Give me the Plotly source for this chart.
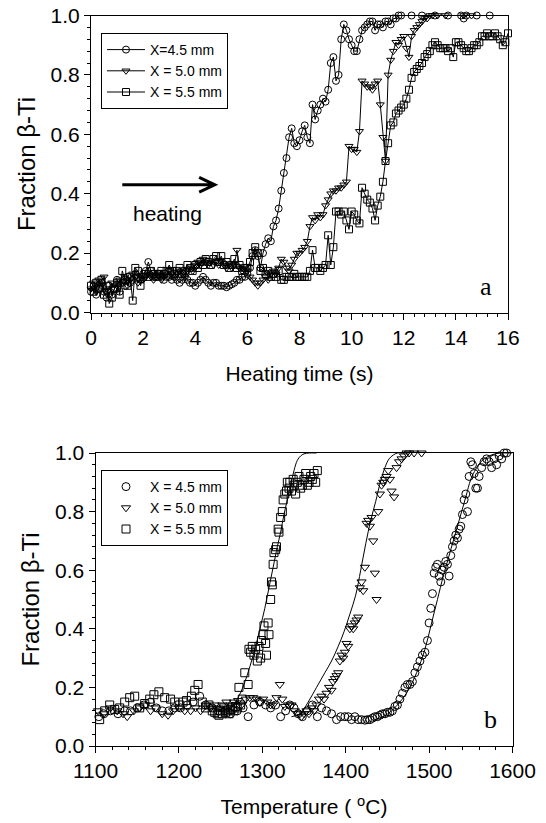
import plotly.graph_objects as go

# ---------------- data: panel a (heating time) ----------------
TIME = [
    0.0, 0.1, 0.2, 0.3, 0.4, 0.5, 0.6, 0.7, 0.8, 0.9,
    1.0, 1.1, 1.2, 1.3, 1.4, 1.5, 1.6, 1.7, 1.8, 1.9,
    2.0, 2.1, 2.2, 2.3, 2.4, 2.5, 2.6, 2.7, 2.8, 2.9,
    3.0, 3.1, 3.2, 3.3, 3.4, 3.5, 3.6, 3.7, 3.8, 3.9,
    4.0, 4.1, 4.2, 4.3, 4.4, 4.5, 4.6, 4.7, 4.8, 4.9,
    5.0, 5.1, 5.2, 5.3, 5.4, 5.5, 5.6, 5.7, 5.8, 5.9,
    6.0, 6.1, 6.2, 6.3, 6.4, 6.5, 6.6, 6.7, 6.8, 6.9,
    7.0, 7.1, 7.2, 7.3, 7.4, 7.5, 7.6, 7.7, 7.8, 7.9,
    8.0, 8.1, 8.2, 8.3, 8.4, 8.5, 8.6, 8.7, 8.8, 8.9,
    9.0, 9.1, 9.2, 9.3, 9.4, 9.5, 9.6, 9.7, 9.8, 9.9,
    10.0, 10.1, 10.2, 10.3, 10.4, 10.5, 10.6, 10.7, 10.8, 10.9,
    11.0, 11.1, 11.2, 11.3, 11.4, 11.5, 11.6, 11.7, 11.8, 11.9,
    12.0, 12.1, 12.2, 12.3, 12.4, 12.5, 12.6, 12.7, 12.8, 12.9,
    13.0, 13.1, 13.2, 13.3, 13.4, 13.5, 13.6, 13.7, 13.8, 13.9,
    14.0, 14.1, 14.2, 14.3, 14.4, 14.5, 14.6, 14.7, 14.8, 14.9,
    15.0, 15.1, 15.2, 15.3, 15.4, 15.5, 15.6, 15.7, 15.8, 15.9,
    16.0,
]

F45 = [
    0.07, 0.09, 0.06, 0.08, 0.10, 0.07, 0.05, 0.09, 0.06, 0.08,
    0.11, 0.07, 0.10, 0.09, 0.12, 0.10, 0.11, 0.13, 0.12, 0.11,
    0.13, 0.14, 0.17, 0.14, 0.13, 0.12, 0.13, 0.12, 0.11, 0.12,
    0.12, 0.11, 0.12, 0.11, 0.10, 0.11, 0.12, 0.11, 0.10, 0.10,
    0.09, 0.10, 0.11, 0.12, 0.11, 0.10, 0.09, 0.10, 0.10, 0.09,
    0.09, 0.09, 0.085, 0.09, 0.095, 0.10, 0.11, 0.11, 0.12, 0.12,
    0.13, 0.15, 0.19, 0.21, 0.19, 0.15, 0.20, 0.23, 0.25, 0.24,
    0.29, 0.31, 0.35, 0.41, 0.47, 0.52, 0.59, 0.62, 0.57, 0.56,
    0.58, 0.61, 0.63, 0.59, 0.57, 0.70, 0.65, 0.68, 0.70, 0.72,
    0.71, 0.75, 0.84, 0.86, 0.78, 0.80, 0.92, 0.97, 0.95, 0.92,
    0.90, 0.88, 0.88, 0.92, 0.95, 0.96, 0.97, 0.98, 0.98, 0.95,
    0.97, 0.97, 0.96, 0.98, 0.98, 0.97, 0.99, 0.99, 1.00, 1.00,
    1.01, 1.01, 1.01, 1.00, 1.01, 1.01, 1.01, 1.00, 1.01, 1.01,
    1.01, 1.01, 1.00, 1.01, 1.01, 1.01, 1.01, 1.00, 1.01, 1.01,
    1.01, 1.01, 1.00, 0.99, 1.00, 1.01, 1.01, 1.01, 1.00, 1.01,
    1.01, 1.01, 1.01, 1.00, 1.01, 1.01, 1.01, 1.01, 1.01, 1.01,
    1.01,
]

F50 = [
    0.08, 0.10, 0.07, 0.11, 0.09, 0.12, 0.08, 0.06, 0.10, 0.08,
    0.09, 0.11, 0.10, 0.12, 0.09, 0.11, 0.13, 0.12, 0.10, 0.12,
    0.11, 0.12, 0.13, 0.12, 0.11, 0.12, 0.13, 0.11, 0.12, 0.13,
    0.14, 0.13, 0.12, 0.13, 0.14, 0.13, 0.12, 0.14, 0.15, 0.14,
    0.16, 0.17, 0.16, 0.18, 0.17, 0.16, 0.17, 0.16, 0.17, 0.16,
    0.17, 0.16, 0.15, 0.16, 0.15, 0.16, 0.21, 0.15, 0.14, 0.15,
    0.14, 0.12, 0.11, 0.10, 0.09, 0.10, 0.11, 0.12, 0.11, 0.13,
    0.14, 0.13, 0.15, 0.18, 0.17, 0.15, 0.14, 0.16, 0.18, 0.20,
    0.20, 0.21, 0.22, 0.24, 0.29, 0.32, 0.31, 0.33, 0.32, 0.33,
    0.36, 0.38, 0.40, 0.41, 0.41, 0.42, 0.42, 0.43, 0.44, 0.56,
    0.55, 0.55, 0.54, 0.61, 0.78, 0.77, 0.76, 0.76, 0.75, 0.77,
    0.78, 0.70, 0.59, 0.51, 0.80, 0.85, 0.88, 0.91, 0.90, 0.92,
    0.93, 0.89, 0.86, 0.93, 0.95, 0.96, 0.97, 0.98, 0.99, 0.99,
    1.00, 1.00, 1.01, 1.00, 1.01, 1.01, 1.00, 1.01, 1.01, 1.01,
    1.01, 1.01, 1.01, 1.00, 1.01, 1.01, 1.00, 1.01, 1.01, 1.01,
    1.01, 1.01, 1.01, 1.01, 1.01, 1.01, 1.01, 1.01, 1.01, 1.01,
    1.01,
]

F55 = [
    0.09, 0.07, 0.10, 0.08, 0.11, 0.06, 0.09, 0.03, 0.05, 0.08,
    0.10, 0.06, 0.14, 0.11, 0.09, 0.12, 0.04, 0.15, 0.14, 0.09,
    0.12, 0.13, 0.12, 0.14, 0.13, 0.12, 0.13, 0.14, 0.13, 0.14,
    0.16, 0.14, 0.13, 0.14, 0.15, 0.13, 0.14, 0.16, 0.15, 0.14,
    0.16, 0.15, 0.17, 0.16, 0.18, 0.17, 0.16, 0.18, 0.19, 0.17,
    0.19, 0.16, 0.17, 0.15, 0.16, 0.18, 0.15, 0.16, 0.14, 0.15,
    0.15, 0.17, 0.20, 0.22, 0.20, 0.14, 0.15, 0.13, 0.14, 0.12,
    0.13, 0.12, 0.14, 0.11, 0.11, 0.12, 0.12, 0.12, 0.13, 0.12,
    0.12, 0.12, 0.12, 0.12, 0.14, 0.21, 0.15, 0.15, 0.14, 0.15,
    0.16, 0.26, 0.16, 0.22, 0.34, 0.34, 0.33, 0.34, 0.31, 0.28,
    0.34, 0.33, 0.31, 0.30, 0.42, 0.40, 0.38, 0.37, 0.35, 0.31,
    0.36, 0.39, 0.44, 0.51, 0.57, 0.63, 0.64, 0.67, 0.68, 0.69,
    0.70, 0.72, 0.75, 0.79, 0.81, 0.82, 0.83, 0.84, 0.86, 0.87,
    0.88, 0.90, 0.91, 0.90, 0.89, 0.89, 0.89, 0.88, 0.89, 0.86,
    0.91, 0.91, 0.90, 0.89, 0.88, 0.88, 0.89, 0.90, 0.90, 0.91,
    0.93, 0.93, 0.94, 0.93, 0.93, 0.94, 0.93, 0.92, 0.90, 0.91,
    0.94,
]

# ---------------- data: panel b (temperature) ----------------
B55_T = [
    1105, 1111, 1117, 1123, 1129, 1135, 1141, 1147, 1153, 1159,
    1165, 1170, 1176, 1183, 1190, 1195, 1201, 1205, 1209, 1215,
    1219, 1223, 1228, 1232, 1236, 1240, 1243, 1246, 1248, 1250,
    1252, 1254, 1256, 1258, 1260, 1262, 1264, 1266, 1268, 1270,
    1272, 1274, 1276, 1279, 1283, 1284, 1286, 1288, 1290, 1292,
    1294, 1296, 1298, 1299, 1301, 1302, 1304, 1305, 1307, 1308,
    1310, 1311, 1312, 1313, 1314, 1316, 1317, 1319, 1320, 1322,
    1324, 1325, 1327, 1329, 1330, 1332, 1333, 1335, 1337, 1338,
    1340, 1342, 1344, 1346, 1348, 1350, 1352, 1354, 1356, 1358,
    1360, 1362, 1364, 1366,
]
B55_F = [
    0.09, 0.12, 0.14, 0.125, 0.13, 0.15, 0.165, 0.17, 0.13, 0.145,
    0.16, 0.175, 0.185, 0.165, 0.16, 0.15, 0.14, 0.15, 0.155, 0.17,
    0.19, 0.21, 0.15, 0.13, 0.14, 0.12, 0.115, 0.11, 0.105, 0.12,
    0.11, 0.13, 0.115, 0.12, 0.11, 0.125, 0.13, 0.12, 0.135, 0.13,
    0.20, 0.14, 0.16, 0.25, 0.21, 0.33, 0.32, 0.34, 0.31, 0.33,
    0.29, 0.34, 0.30, 0.36, 0.38, 0.41, 0.35, 0.31, 0.42, 0.38,
    0.50, 0.56, 0.55, 0.62, 0.66, 0.67, 0.68, 0.74, 0.73, 0.78,
    0.80, 0.84, 0.86, 0.87, 0.90, 0.88, 0.90, 0.87, 0.91, 0.89,
    0.86, 0.90, 0.92, 0.88, 0.89, 0.91, 0.93, 0.89, 0.90, 0.92,
    0.91, 0.93, 0.90, 0.94,
]

B50_T = [
    1103, 1110, 1118, 1126, 1133, 1138, 1146, 1153, 1160, 1166,
    1172, 1180, 1187, 1193, 1200, 1207, 1214, 1220, 1226, 1232,
    1238, 1243, 1248, 1252, 1257, 1262, 1266, 1271, 1275, 1280,
    1285, 1289, 1293, 1297, 1301, 1306, 1310, 1313, 1317, 1321,
    1324, 1327, 1331, 1335, 1339, 1343, 1347, 1350, 1353, 1356,
    1359, 1362, 1365, 1368, 1371, 1374, 1377, 1380, 1383, 1385,
    1387, 1389, 1391, 1393, 1395, 1397, 1399, 1401, 1403, 1405,
    1407, 1409, 1411, 1413, 1415, 1417, 1419, 1421, 1423, 1425,
    1427, 1429, 1431, 1433, 1435, 1437, 1439, 1441, 1443, 1445,
    1447, 1449, 1451, 1453, 1455, 1458, 1461, 1464, 1467, 1470,
    1473, 1476, 1479, 1482, 1485, 1488, 1491, 1494, 1497, 1500,
]
B50_F = [
    0.12, 0.11, 0.13, 0.12, 0.11, 0.10, 0.12, 0.13, 0.14, 0.12,
    0.13, 0.11, 0.105, 0.12, 0.13, 0.12, 0.12, 0.13, 0.12, 0.14,
    0.13, 0.14, 0.13, 0.14, 0.15, 0.14, 0.15, 0.155, 0.14, 0.16,
    0.165, 0.165, 0.16, 0.15, 0.16, 0.15, 0.14, 0.14, 0.165, 0.21,
    0.16, 0.135, 0.14, 0.14, 0.12, 0.11, 0.10, 0.11, 0.12, 0.11,
    0.13, 0.12, 0.14, 0.16, 0.17, 0.16, 0.18, 0.20, 0.19, 0.22,
    0.23, 0.24, 0.25, 0.29, 0.31, 0.30, 0.32, 0.35, 0.34, 0.40,
    0.41, 0.40, 0.42, 0.43, 0.44, 0.54, 0.56, 0.53, 0.61, 0.76,
    0.77, 0.75, 0.78, 0.70, 0.59, 0.50, 0.80, 0.86, 0.89, 0.90,
    0.91, 0.92, 0.94, 0.91, 0.87, 0.85, 0.95, 0.97, 0.98, 0.99,
    1.00, 1.00, 1.01, 1.00, 1.01, 1.01, 1.00, 1.01, 1.01, 1.01,
]

B45_T = [
    1104, 1110, 1118, 1127, 1135, 1142, 1150, 1158, 1166, 1173,
    1180, 1188, 1195, 1202, 1210, 1217, 1225, 1232, 1240, 1247,
    1255, 1262, 1270, 1277, 1283, 1290, 1297, 1304, 1310, 1316,
    1322, 1328, 1333, 1338, 1343, 1348, 1354, 1360, 1366, 1371,
    1377, 1383, 1389, 1394, 1399, 1403, 1407, 1411, 1415, 1419,
    1423, 1426, 1429, 1432, 1435, 1438, 1441, 1444, 1447, 1450,
    1453, 1456, 1459, 1462, 1465, 1468, 1471, 1474, 1477, 1480,
    1483, 1486, 1489, 1492, 1495, 1498, 1500, 1502, 1504, 1506,
    1508, 1510, 1512, 1514, 1516, 1518, 1520, 1522, 1524, 1526,
    1528, 1530, 1532, 1534, 1536, 1538, 1540, 1542, 1544, 1546,
    1548, 1550, 1552, 1554, 1556, 1558, 1560, 1563, 1566, 1569,
    1572, 1575, 1578, 1581, 1584, 1587, 1590, 1593, 1596,
]
B45_F = [
    0.10, 0.11, 0.12, 0.11, 0.12, 0.12, 0.13, 0.14, 0.15, 0.13,
    0.12, 0.12, 0.13, 0.13, 0.14, 0.15, 0.17, 0.14, 0.13, 0.12,
    0.12, 0.11, 0.12, 0.13, 0.10, 0.14, 0.15, 0.14, 0.13, 0.14,
    0.10, 0.12, 0.14, 0.13, 0.11, 0.10, 0.12, 0.14, 0.10, 0.13,
    0.12, 0.11, 0.09, 0.10, 0.10, 0.10, 0.09, 0.10, 0.09, 0.09,
    0.088, 0.09, 0.09, 0.095, 0.10, 0.10, 0.105, 0.11, 0.11, 0.115,
    0.115, 0.12, 0.135, 0.14, 0.16, 0.18, 0.20, 0.21, 0.21, 0.22,
    0.25, 0.27, 0.29, 0.31, 0.32, 0.36, 0.42, 0.47, 0.52, 0.59,
    0.61, 0.62, 0.58, 0.56, 0.60, 0.61, 0.63, 0.62, 0.58, 0.65,
    0.68, 0.70, 0.72, 0.71, 0.74, 0.75, 0.79, 0.84, 0.86, 0.80,
    0.92, 0.97, 0.96, 0.93, 0.88, 0.88, 0.92, 0.95, 0.97, 0.98,
    0.97, 0.95, 0.98, 0.96, 0.99, 0.98, 1.00, 1.00, 1.01,
]

# fitted curves
FIT55_T = [1252, 1262, 1270, 1278, 1285, 1292, 1298, 1303, 1308, 1313,
           1318, 1322, 1326, 1330, 1334, 1338, 1342, 1346, 1350, 1356, 1365]
FIT55_F = [0.12, 0.13, 0.16, 0.21, 0.27, 0.34, 0.41, 0.47, 0.54, 0.61,
           0.68, 0.73, 0.79, 0.84, 0.89, 0.94, 0.975, 0.99, 0.997, 1.0, 1.0]
FIT50_T = [1335, 1345, 1355, 1365, 1375, 1383, 1391, 1398, 1405, 1412,
           1418, 1424, 1430, 1436, 1442, 1447, 1452, 1457, 1462, 1470]
FIT50_F = [0.10, 0.11, 0.15, 0.20, 0.25, 0.29, 0.34, 0.39, 0.45, 0.515,
           0.60, 0.69, 0.77, 0.835, 0.905, 0.95, 0.98, 0.993, 1.0, 1.0]
FIT45_T = [1435, 1445, 1455, 1465, 1475, 1485, 1495, 1503, 1510, 1517,
           1523, 1530, 1537, 1544, 1550, 1556, 1562, 1570, 1580, 1590, 1600]
FIT45_F = [0.09, 0.10, 0.12, 0.15, 0.19, 0.25, 0.33, 0.42, 0.50, 0.58,
           0.64, 0.71, 0.78, 0.85, 0.91, 0.945, 0.97, 0.987, 0.998, 1.0, 1.0]

LABELS_A = ["X=4.5 mm", "X = 5.0 mm", "X = 5.5 mm"]
LABELS_B = ["X = 4.5 mm", "X = 5.0 mm", "X = 5.5 mm"]

# ---------------- figure ----------------
W, H = 546, 823
SANS = "Liberation Sans, Arial, Helvetica, sans-serif"
SERIF = "Liberation Serif, Times New Roman, serif"

def fx(p):
    return p / W

def fy(p):
    return 1 - p / H

fig = go.Figure()
line = dict(color="black", width=1)

def mk(symbol, size):
    return dict(symbol=symbol, size=size, color="black", line=dict(width=1, color="black"))

symbols = ["circle-open", "triangle-down-open", "square-open"]
top_series = [F45, F50, F55]
for lab, ys, sym in zip(LABELS_A, top_series, symbols):
    fig.add_trace(go.Scatter(
        x=TIME, y=ys, mode="lines+markers", name=lab, line=line,
        marker=mk(sym, 7), xaxis="x", yaxis="y", legend="legend",
        cliponaxis=False,
    ))

bottom = [(B45_T, B45_F), (B50_T, B50_F), (B55_T, B55_F)]
for lab, (xs, ys), sym in zip(LABELS_B, bottom, symbols):
    fig.add_trace(go.Scatter(
        x=xs, y=ys, mode="markers", name=lab,
        marker=mk(sym, 8), xaxis="x2", yaxis="y2", legend="legend2",
        cliponaxis=False,
    ))

for xs, ys in [(FIT55_T, FIT55_F), (FIT50_T, FIT50_F), (FIT45_T, FIT45_F)]:
    fig.add_trace(go.Scatter(
        x=xs, y=ys, mode="lines", line=dict(color="black", width=1, shape="spline"),
        xaxis="x2", yaxis="y2", showlegend=False, hoverinfo="skip",
    ))

axis_common = dict(
    showline=True, linecolor="black", linewidth=1, mirror=True,
    showgrid=False, zeroline=False, ticks="outside", ticklen=6,
    tickwidth=1, tickcolor="black",
    tickfont=dict(family=SANS, size=21, color="black"),
    automargin=False,
)
xtitle_font = dict(family=SANS, size=21, color="black")
ytitle_font = dict(family=SANS, size=24, color="black")

fig.update_layout(
    width=W, height=H,
    margin=dict(l=0, r=0, t=0, b=0),
    paper_bgcolor="white", plot_bgcolor="white",
    font=dict(family=SANS, color="black"),
    xaxis=dict(axis_common, domain=[fx(91), fx(508)], anchor="y",
               range=[0, 16], tick0=0, dtick=2,
               minor=dict(ticks="outside", ticklen=3, dtick=0.4, tickcolor="black"),
               title=dict(text="Heating time (s)", standoff=18, font=xtitle_font)),
    yaxis=dict(axis_common, domain=[fy(312.5), fy(15.5)], anchor="x",
               range=[0, 1], tick0=0, dtick=0.2, tickformat=".1f",
               minor=dict(ticks="outside", ticklen=3, dtick=0.04, tickcolor="black"),
               title=dict(text="Fraction β-Ti", standoff=8, font=ytitle_font)),
    xaxis2=dict(axis_common, domain=[fx(95.5), fx(512.5)], anchor="y2",
                range=[1100, 1600], tick0=1100, dtick=100,
                minor=dict(ticks="outside", ticklen=3, dtick=20, tickcolor="black"),
                title=dict(text="Temperature ( <sup>o</sup>C)", standoff=18, font=xtitle_font)),
    yaxis2=dict(axis_common, domain=[fy(746), fy(453)], anchor="x2",
                range=[0, 1], tick0=0, dtick=0.2, tickformat=".1f",
                minor=dict(ticks="outside", ticklen=3, dtick=0.04, tickcolor="black"),
                title=dict(text="Fraction β-Ti", standoff=8, font=ytitle_font)),
    legend=dict(x=fx(101), y=fy(33), xanchor="left", yanchor="top",
                bordercolor="black", borderwidth=1, bgcolor="white",
                font=dict(family=SANS, size=14, color="black"),
                itemwidth=38, tracegroupgap=0),
    legend2=dict(x=fx(101), y=fy(470), xanchor="left", yanchor="top",
                 bordercolor="black", borderwidth=1, bgcolor="white",
                 font=dict(family=SANS, size=14, color="black"),
                 itemwidth=38, tracegroupgap=0),
    showlegend=True,
)

fig.add_shape(type="path", xref="x", yref="y",
              path="M 1.2,0.43 L 4.75,0.43 M 4.15,0.455 L 4.75,0.43 L 4.15,0.405",
              line=dict(color="black", width=3))

fig.add_annotation(x=2.95, y=0.335, xref="x", yref="y", text="heating",
                   showarrow=False, font=dict(family=SANS, size=21, color="black"))
fig.add_annotation(x=15.17, y=0.087, xref="x", yref="y", text="a",
                   showarrow=False, font=dict(family=SERIF, size=26, color="black"))
fig.add_annotation(x=1574, y=0.089, xref="x2", yref="y2", text="b",
                   showarrow=False, font=dict(family=SERIF, size=26, color="black"))

fig.write_html("out.html")
